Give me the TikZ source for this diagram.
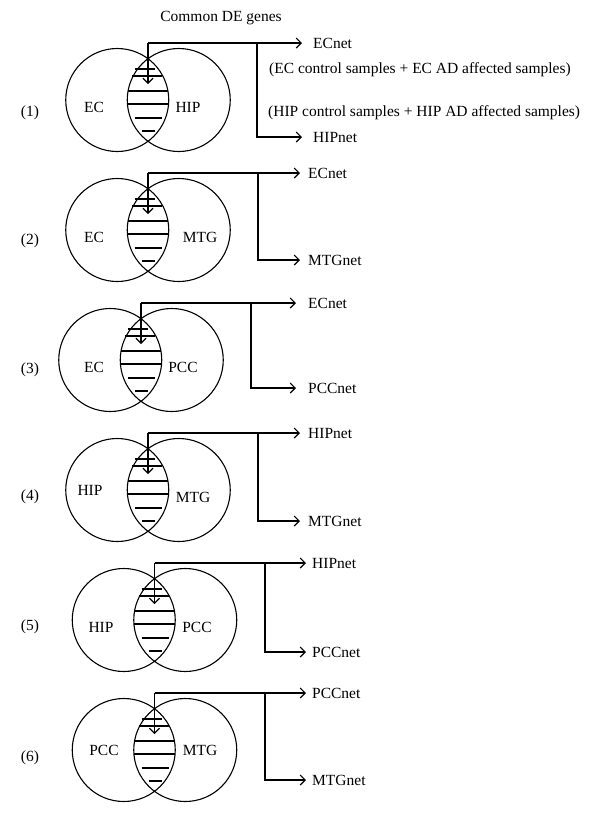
\documentclass[tikz,border=0pt]{standalone}
\usepackage{fontspec}
\setmainfont{Liberation Serif}
\usetikzlibrary{arrows.meta}
\tikzset{
  ln/.style={line width=1.1pt},
  conn/.style={ln, -{Straight Barb[length=5pt,width=10pt,line width=1.1pt]}},
  venn/.style={ln},
  hatch/.style={ln},
  lbl/.style={font=\fontsize{15.5}{18}\selectfont, inner sep=0pt},
  netlbl/.style={lbl, anchor=west},
}
\newcommand{\vennpanel}[9]{%
  % #1 id, #2 lens x, #3 centre y, #4 branch x, #5 tip x, #6 text x, #7 bottom y, #8 top net, #9 bottom net
  \begin{scope}[shift={(#2,#3)}]
    \draw[venn] (-30.75,0) circle[radius=51.5pt] (30.75,0) circle[radius=51.5pt];
    \foreach \hy/\ha/\hb in {-31/-13/7, -24/-16/14, -9/-19.6/19.6, 4/-20.3/20.3, 18/-13/14, 31/-6/7}
      {\draw[hatch] (\ha,\hy) -- (\hb,\hy);}
  \end{scope}
  \coordinate (top#1) at (#2,#3-57);
  \coordinate (tip#1) at (#2,#3-16);
  \coordinate (br#1) at (#4,#3-57);
  \node[netlbl] (na#1) at (#6,#3-57) {#8};
  \node[netlbl] (nb#1) at (#6,#7) {#9};
  \pgfmathsetmacro\gap{#6-#5}
  \draw[conn] (top#1) -- (tip#1);
  \draw[conn, shorten >=\gap pt] (top#1) -- (na#1.west);
  \draw[conn, shorten >=\gap pt] (br#1) |- (nb#1.west);
}
\begin{document}
\begin{tikzpicture}[x=1pt,y=-1pt]
\fill[white] (0,0) rectangle (600,823);
\useasboundingbox (0,0) rectangle (600,823);

\node[lbl] (title) at (221,18) {Common DE genes};

% panel 1
\vennpanel{1}{148}{100}{257}{302}{313}{137}{ECnet}{HIPnet}
\node[lbl] (l1) at (94,107) {EC};
\node[lbl] (r1) at (188,107) {HIP};
\node[lbl] (n1) at (30,113) {(1)};
\node[netlbl] (ecs) at (269,70) {(EC control samples + EC AD affected samples)};
\node[netlbl] (hips) at (268,113) {(HIP control samples + HIP AD affected samples)};

% panel 2
\vennpanel{2}{148}{230}{258}{300}{308}{260}{ECnet}{MTGnet}
\node[lbl] (l2) at (94,237) {EC};
\node[lbl] (r2) at (200,237) {MTG};
\node[lbl] (n2) at (30,241) {(2)};

% panel 3
\vennpanel{3}{141}{360}{251}{296}{308}{388}{ECnet}{PCCnet}
\node[lbl] (l3) at (94,367) {EC};
\node[lbl] (r3) at (183,367) {PCC};
\node[lbl] (n3) at (30,370) {(3)};

% panel 4
\vennpanel{4}{148}{490}{258}{300}{308}{521}{HIPnet}{MTGnet}
\node[lbl] (l4) at (90,490) {HIP};
\node[lbl] (r4) at (193,497) {MTG};
\node[lbl] (n4) at (30,497) {(4)};

% panel 5
\vennpanel{5}{154.5}{620}{265}{306}{312}{652}{HIPnet}{PCCnet}
\node[lbl] (l5) at (101,627) {HIP};
\node[lbl] (r5) at (197,627) {PCC};
\node[lbl] (n5) at (30,627) {(5)};

% panel 6
\vennpanel{6}{154.5}{750}{265}{306}{312}{780}{PCCnet}{MTGnet}
\node[lbl] (l6) at (104,750) {PCC};
\node[lbl] (r6) at (200,750) {MTG};
\node[lbl] (n6) at (30,758) {(6)};
\end{tikzpicture}
\end{document}
